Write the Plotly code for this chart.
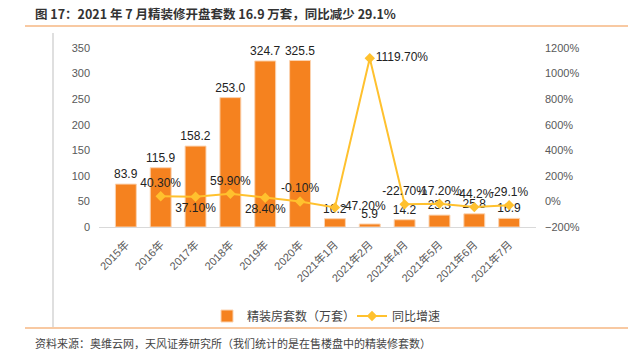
import plotly.graph_objects as go

categories = ["2015年", "2016年", "2017年", "2018年", "2019年", "2020年",
              "2021年1月", "2021年2月", "2021年4月", "2021年5月", "2021年6月", "2021年7月"]
units = [83.9, 115.9, 158.2, 253.0, 324.7, 325.5, 16.2, 5.9, 14.2, 23.3, 25.8, 16.9]
growth = [None, 40.3, 37.1, 59.9, 28.4, -0.1, -47.2, 1119.7, -22.7, -17.2, -44.2, -29.1]
growth_labels = ["", "40.30%", "37.10%", "59.90%", "28.40%", "-0.10%", "-47.20%",
                 "1119.70%", "-22.70%", "-17.20%", "-44.2%", "-29.1%"]
growth_pos = ["top center", "top center", "bottom center", "top center", "bottom center",
              "top center", "middle right", "middle right", "top center", "top center",
              "top center", "top center"]
unit_labels = [f"{v:.1f}" for v in units]

W, H = 640, 354
FONT = "Liberation Sans, Arial, Noto Sans CJK SC, sans-serif"
CJK = "Noto Sans CJK SC, Liberation Sans, sans-serif"

def px(x):
    return x / W

def py(y):
    return 1 - y / H

fig = go.Figure()
fig.add_trace(go.Bar(
    x=categories, y=units, name="精装房套数（万套）",
    marker=dict(color="#F5821F", line=dict(color="#FBD3B0", width=1)),
    width=0.6,
    text=unit_labels, textposition="outside", cliponaxis=False,
    constraintext="none",
    textfont=dict(size=12, color="#222222", family=FONT),
    yaxis="y",
))
fig.add_trace(go.Scatter(
    x=categories, y=growth, name="同比增速", mode="lines+markers+text",
    line=dict(color="#FFC12E", width=2),
    marker=dict(symbol="diamond", size=8, color="#FFC12E"),
    text=growth_labels, textposition=growth_pos, cliponaxis=False,
    textfont=dict(size=12, color="#222222", family=FONT),
    yaxis="y2", connectgaps=False,
))

x0, x1 = 99, 536
ytop, ybot = 48, 227

fig.update_layout(
    width=W, height=H,
    margin=dict(l=0, r=0, t=0, b=0),
    paper_bgcolor="white", plot_bgcolor="white",
    font=dict(family=FONT, size=11, color="#595959"),
    xaxis=dict(domain=[px(x0), px(x1)], tickangle=-45, showline=True,
               linecolor="#D9D9D9", linewidth=1, ticks="", automargin=False,
               ticklabelstandoff=6,
               tickfont=dict(size=11, color="#595959", family=FONT)),
    yaxis=dict(domain=[py(ybot), py(ytop)], range=[0, 350], dtick=50,
               showgrid=False, zeroline=False, showline=False, ticks="",
               ticklabelstandoff=8, automargin=False,
               tickfont=dict(size=11, color="#595959")),
    yaxis2=dict(overlaying="y", side="right", range=[-200, 1200], dtick=200,
                ticksuffix="%", showgrid=False, zeroline=False, showline=False,
                ticks="", ticklabelstandoff=8, automargin=False,
                tickfont=dict(size=11, color="#595959")),
    showlegend=True,
    legend=dict(orientation="h", x=px(207), y=py(316), xanchor="left", yanchor="middle",
                font=dict(size=12, color="#444444", family=CJK),
                bgcolor="rgba(0,0,0,0)", itemwidth=30, entrywidth=100),
    bargap=0.4,
)

fig.add_annotation(text="<b>图 17：2021 年 7 月精装修开盘套数 16.9 万套，同比减少 29.1%</b>",
                   x=px(33), y=py(13), xref="paper", yref="paper",
                   xanchor="left", yanchor="middle", showarrow=False,
                   font=dict(size=12.5, color="#333333", family=CJK))
fig.add_annotation(text="资料来源：奥维云网，天风证券研究所（我们统计的是在售楼盘中的精装修套数）",
                   x=px(33), y=py(343), xref="paper", yref="paper",
                   xanchor="left", yanchor="middle", showarrow=False,
                   font=dict(size=11, color="#444444", family=CJK))

fig.add_shape(type="line", xref="paper", yref="paper",
              x0=px(25), x1=px(628), y0=py(26), y1=py(26),
              line=dict(color="#F6B783", width=1.5))
fig.add_shape(type="line", xref="paper", yref="paper",
              x0=px(25), x1=px(628), y0=py(328), y1=py(328),
              line=dict(color="#F6B783", width=1.5))
fig.add_shape(type="line", xref="paper", yref="paper",
              x0=px(53), x1=px(53), y0=py(33), y1=py(327),
              line=dict(color="#BFBFBF", width=1))

fig.write_html("out.html")
